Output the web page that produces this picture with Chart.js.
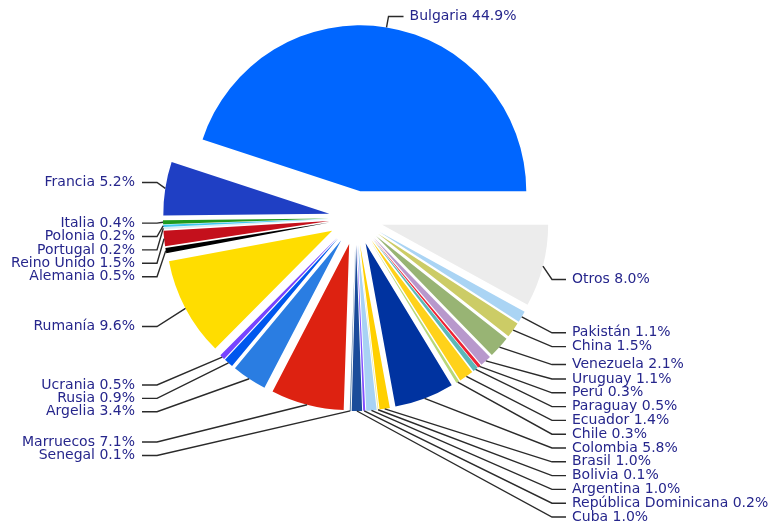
<!DOCTYPE html>
<html>
<head>
<meta charset="utf-8">
<script src="https://cdn.jsdelivr.net/npm/chart.js@4/dist/chart.umd.min.js"></script>
<style>
  html, body { margin: 0; padding: 0; background: #fff; }
  #wrap { width: 770px; height: 521px; }
</style>
</head>
<body>
<div id="wrap"><canvas id="myChart" width="770" height="521"></canvas></div>
<script>
// shares of foreign residents by country, in the order of the source table
const countries = [
  "Bulgaria", "Francia", "Italia", "Polonia", "Portugal", "Reino Unido", "Alemania",
  "Rumanía", "Ucrania", "Rusia", "Argelia", "Marruecos", "Senegal", "Cuba",
  "República Dominicana", "Argentina", "Bolivia", "Brasil", "Colombia", "Chile",
  "Ecuador", "Paraguay", "Perú", "Uruguay", "Venezuela", "China", "Pakistán", "Otros"
];
const shares = [
  44.9, 5.2, 0.4, 0.2, 0.2, 1.5, 0.5,
  9.6, 0.5, 0.9, 3.4, 7.1, 0.1, 1.0,
  0.2, 1.0, 0.1, 1.0, 5.8, 0.3,
  1.4, 0.5, 0.3, 1.1, 2.1, 1.5, 1.1, 8.0
];
const sliceColors = [
  "#0066ff", "#1f3fc4", "#1e9a1e", "#40c8f0", "#d8ecf4", "#c4101c", "#000000",
  "#ffdd00", "#7744ff", "#0057ee", "#2a7de2", "#dd2211", "#5a7fa8", "#1b4c9a",
  "#8050ff", "#a8d2f4", "#f2eca0", "#ffd000", "#0033a0", "#b8d878",
  "#ffd21a", "#5cb8b8", "#ee2233", "#b898cc", "#98b474", "#cccc66", "#aad4f4", "#ececec"
];

document.addEventListener("DOMContentLoaded", () => {
  const ctx = document.getElementById("myChart").getContext("2d");

  const EXPLODE = 27;          // every slice pulled out from the centre
  const TEXT_COLOR = "#26268c";
  const LINE_COLOR = "#2a2a2a";

  // chart.js goes clockwise, the picture runs counter-clockwise from 3 o'clock
  const labels = countries.slice().reverse();
  const values = shares.slice().reverse();
  const colors = sliceColors.slice().reverse();

  const explodePlugin = {
    id: "explode",
    beforeDatasetDraw(chart, args) {
      const c = chart.ctx;
      args.meta.data.forEach((arc) => {
        const mid = (arc.startAngle + arc.endAngle) / 2;
        c.save();
        c.translate(Math.cos(mid) * EXPLODE, Math.sin(mid) * EXPLODE);
        arc.draw(c);
        c.restore();
      });
      return false;
    },
  };

  const labelPlugin = {
    id: "leaderLabels",
    afterDatasetsDraw(chart) {
      const c = chart.ctx;
      const meta = chart.getDatasetMeta(0);
      const left = [], right = [], top = [];

      meta.data.forEach((arc, i) => {
        const mid = (arc.startAngle + arc.endAngle) / 2;
        const r = arc.outerRadius + EXPLODE;
        const item = {
          cx: arc.x, cy: arc.y, R: arc.outerRadius,
          px: arc.x + Math.cos(mid) * r,
          py: arc.y + Math.sin(mid) * r,
          text: labels[i] + " " + values[i].toFixed(1) + "%",
        };
        if (Math.sin(mid) < -0.95) top.push(item);
        else if (Math.cos(mid) < 0) left.push(item);
        else right.push(item);
      });

      // simple stacking so labels don't pile on each other
      function stack(list, k, b, gap) {
        list.forEach((it) => (it.ly = it.py + k * (it.py - it.cy) + b));
        list.sort((a, b2) => a.ly - b2.ly);
        for (let i = 1; i < list.length; i++) {
          list[i].ly = Math.max(list[i].ly, list[i - 1].ly + gap);
        }
      }
      stack(left, 0.2, 0, 13.4);
      stack(right, 0.05, 11, 13.8);

      c.save();
      c.font = "14px 'DejaVu Sans'";
      c.textBaseline = "middle";
      c.strokeStyle = LINE_COLOR;
      c.lineWidth = 1.4;
      c.fillStyle = TEXT_COLOR;

      left.forEach((it) => {
        const ex = it.cx - it.R - 33;
        c.beginPath();
        c.moveTo(it.px, it.py);
        c.lineTo(ex, it.ly);
        c.lineTo(ex - 15, it.ly);
        c.stroke();
        c.textAlign = "right";
        c.fillText(it.text, ex - 22, it.ly);
      });

      right.forEach((it) => {
        const ex = it.cx + it.R + 30;
        c.beginPath();
        c.moveTo(it.px, it.py);
        c.lineTo(ex, it.ly);
        c.lineTo(ex + 14, it.ly);
        c.stroke();
        c.textAlign = "left";
        c.fillText(it.text, ex + 20, it.ly);
      });

      top.forEach((it) => {
        const ex = it.px + 2, ey = it.py - 11;
        c.beginPath();
        c.moveTo(it.px, it.py);
        c.lineTo(ex, ey);
        c.lineTo(ex + 15, ey);
        c.stroke();
        c.textAlign = "left";
        c.fillText(it.text, ex + 21, ey);
      });
      c.restore();
    },
  };

  new Chart(ctx, {
    type: "pie",
    data: {
      labels: labels,
      datasets: [{
        data: values,
        backgroundColor: colors,
        borderWidth: 0,
        offset: 0,
        hoverOffset: 0,
      }],
    },
    options: {
      responsive: false,
      animation: false,
      rotation: 90,
      layout: { padding: { left: 190, right: 248, top: 52, bottom: 137 } },
      plugins: {
        legend: { display: false },
        tooltip: { enabled: false },
      },
      events: [],
    },
    plugins: [explodePlugin, labelPlugin],
  });
});
</script>
</body>
</html>
